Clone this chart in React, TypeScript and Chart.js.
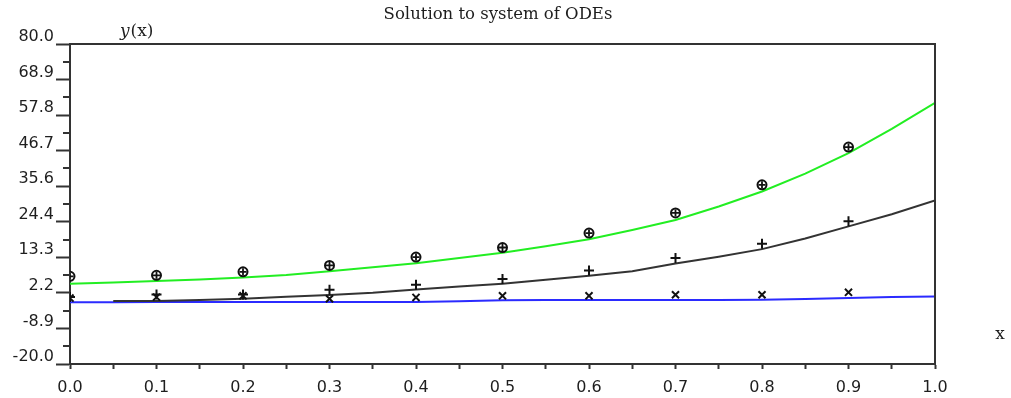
import React, { useEffect, useRef } from "react";
import { Chart, registerables } from "chart.js";

Chart.register(...registerables);

// Abscissae of the computed solution curves
const lineX = [0, 0.05, 0.1, 0.15, 0.2, 0.25, 0.3, 0.35, 0.4, 0.45, 0.5, 0.55, 0.6, 0.65, 0.7, 0.75, 0.8, 0.85, 0.9, 0.95, 1.0];

// Numerical solution components
const greenCurve = [5.1, 5.5, 5.9, 6.4, 7.0, 7.8, 9.0, 10.2, 11.5, 13.1, 14.8, 16.8, 19.0, 21.9, 25.0, 29.2, 33.9, 39.5, 45.9, 53.5, 61.6];
const blackCurve = [null, -0.3, -0.3, 0.0, 0.4, 1.0, 1.6, 2.3, 3.3, 4.2, 5.1, 6.3, 7.6, 9.0, 11.4, 13.5, 15.9, 19.2, 23.0, 26.8, 31.1];
const blueCurve = [-0.7, -0.7, -0.6, -0.6, -0.6, -0.6, -0.6, -0.6, -0.6, -0.4, -0.1, 0.0, 0.0, 0.0, 0.0, 0.0, 0.1, 0.3, 0.6, 0.9, 1.1];

// Sampled reference values shown with markers
const markerX = [0, 0.1, 0.2, 0.3, 0.4, 0.5, 0.6, 0.7, 0.8, 0.9];
const circleSeries = [7.4, 7.7, 8.8, 10.8, 13.4, 16.4, 20.9, 27.2, 36.0, 47.8];
const plusSeries = [0.9, 1.7, 1.7, 3.2, 4.8, 6.6, 9.2, 13.1, 17.6, 24.6];
const crossSeries = [0.6, 0.9, 1.3, 0.4, 0.8, 1.3, 1.3, 1.65, 1.65, 2.4];

// Axis ticks
const yTickValues = [-20, -8.889, 2.222, 13.333, 24.444, 35.556, 46.667, 57.778, 68.889, 80];
const yTickLabels = ["-20.0", "-8.9", "2.2", "13.3", "24.4", "35.6", "46.7", "57.8", "68.9", "80.0"];
const xTickValues = [0, 0.05, 0.1, 0.15, 0.2, 0.25, 0.3, 0.35, 0.4, 0.45, 0.5, 0.55, 0.6, 0.65, 0.7, 0.75, 0.8, 0.85, 0.9, 0.95, 1.0];
const xTickLabels = ["0.0", "0.1", "0.2", "0.3", "0.4", "0.5", "0.6", "0.7", "0.8", "0.9", "1.0"];

const titleText = "Solution to system of ODEs";
const yAxisName = ["y", "(x)"];
const xAxisName = "x";

const AXIS = "#333333";
const TEXT = "#1e1e1e";
const MARK = "#111111";

const pairs = (xs: number[], ys: (number | null)[]) => xs.map((x, i) => ({ x, y: ys[i] }));

// Frame, minor ticks and labels around the plot area
const decorations = {
  id: "decorations",
  afterDraw(chart: any) {
    const { ctx, chartArea: a, scales } = chart;
    ctx.save();
    ctx.strokeStyle = AXIS;
    ctx.lineWidth = 2;
    ctx.beginPath();
    ctx.moveTo(a.left - 1, a.top);
    ctx.lineTo(a.right, a.top);
    ctx.lineTo(a.right, a.bottom);
    ctx.stroke();

    ctx.beginPath();
    for (let i = 0; i < yTickValues.length - 1; i++) {
      const v = (yTickValues[i] + yTickValues[i + 1]) / 2;
      const py = Math.round(scales.y.getPixelForValue(v));
      ctx.moveTo(a.left - 7, py);
      ctx.lineTo(a.left, py);
    }
    ctx.stroke();

    ctx.fillStyle = TEXT;
    ctx.textBaseline = "middle";
    ctx.textAlign = "center";
    ctx.font = "16.5px 'DejaVu Serif'";
    ctx.fillText(titleText, 498, 15);

    ctx.textAlign = "left";
    ctx.font = "italic 17px 'DejaVu Serif'";
    ctx.fillText(yAxisName[0], 120, 32);
    const w = ctx.measureText(yAxisName[0]).width;
    ctx.font = "17px 'DejaVu Serif'";
    ctx.fillText(yAxisName[1], 120 + w + 1, 32);

    ctx.textAlign = "center";
    ctx.fillText(xAxisName, 1000, 335);
    ctx.restore();
  },
};

export default function App() {
  const ref = useRef<HTMLCanvasElement | null>(null);

  useEffect(() => {
    if (!ref.current) return;
    const chart = new Chart(ref.current, {
      type: "scatter",
      data: {
        datasets: [
          {
            data: pairs(markerX, circleSeries),
            showLine: false,
            pointStyle: "cross",
            pointRadius: 3.5,
            borderColor: MARK,
            borderWidth: 1.8,
            order: 0,
          },
          {
            data: pairs(markerX, circleSeries),
            showLine: false,
            pointStyle: "circle",
            pointRadius: 4.5,
            backgroundColor: "#ffffff",
            borderColor: MARK,
            borderWidth: 2,
            order: 1,
          },
          {
            data: pairs(markerX, plusSeries),
            showLine: false,
            pointStyle: "cross",
            pointRadius: 5,
            borderColor: MARK,
            borderWidth: 2,
            order: 2,
          },
          {
            data: pairs(markerX, crossSeries),
            showLine: false,
            pointStyle: "crossRot",
            pointRadius: 5,
            borderColor: MARK,
            borderWidth: 2,
            order: 3,
          },
          {
            data: pairs(lineX, greenCurve),
            showLine: true,
            pointRadius: 0,
            borderColor: "#22ee22",
            borderWidth: 2,
            order: 4,
          },
          {
            data: pairs(lineX, blackCurve),
            showLine: true,
            pointRadius: 0,
            borderColor: "#333333",
            borderWidth: 2,
            order: 5,
          },
          {
            data: pairs(lineX, blueCurve),
            showLine: true,
            pointRadius: 0,
            borderColor: "#2b2bff",
            borderWidth: 2,
            order: 6,
          },
        ],
      },
      options: {
        responsive: false,
        animation: false,
        layout: { padding: { top: 44, right: 76, bottom: 0, left: 0 } },
        elements: { line: { tension: 0 } },
        plugins: {
          legend: { display: false },
          tooltip: { enabled: false },
          title: { display: false },
        },
        scales: {
          x: {
            type: "linear",
            min: 0,
            max: 1,
            afterBuildTicks: (s: any) => {
              s.ticks = xTickValues.map((v) => ({ value: v }));
            },
            afterFit: (s: any) => {
              s.height = 34;
            },
            grid: {
              drawOnChartArea: false,
              drawTicks: true,
              tickLength: 5,
              tickWidth: 2,
              tickColor: AXIS,
            },
            border: { display: true, color: AXIS, width: 2 },
            ticks: {
              autoSkip: false,
              maxRotation: 0,
              padding: 9,
              color: TEXT,
              font: { family: "'DejaVu Sans'", size: 16 },
              callback: (_v: any, i: number) => (i % 2 === 0 ? xTickLabels[i / 2] : ""),
            },
          },
          y: {
            type: "linear",
            min: -20,
            max: 80,
            afterBuildTicks: (s: any) => {
              s.ticks = yTickValues.map((v) => ({ value: v }));
            },
            afterFit: (s: any) => {
              s.width = 70;
            },
            grid: {
              drawOnChartArea: false,
              drawTicks: true,
              tickLength: 14,
              tickWidth: 2,
              tickColor: AXIS,
            },
            border: { display: true, color: AXIS, width: 2 },
            ticks: {
              autoSkip: false,
              padding: 2,
              labelOffset: -7,
              color: TEXT,
              font: { family: "'DejaVu Sans'", size: 16 },
              callback: (_v: any, i: number) => yTickLabels[i],
            },
          },
        },
      },
      plugins: [decorations],
    });
    return () => chart.destroy();
  }, []);

  return (
    <div style={{ position: "absolute", left: 0, top: 0, width: 1011, height: 398, background: "#fff" }}>
      <canvas ref={ref} width={1011} height={398} />
    </div>
  );
}
